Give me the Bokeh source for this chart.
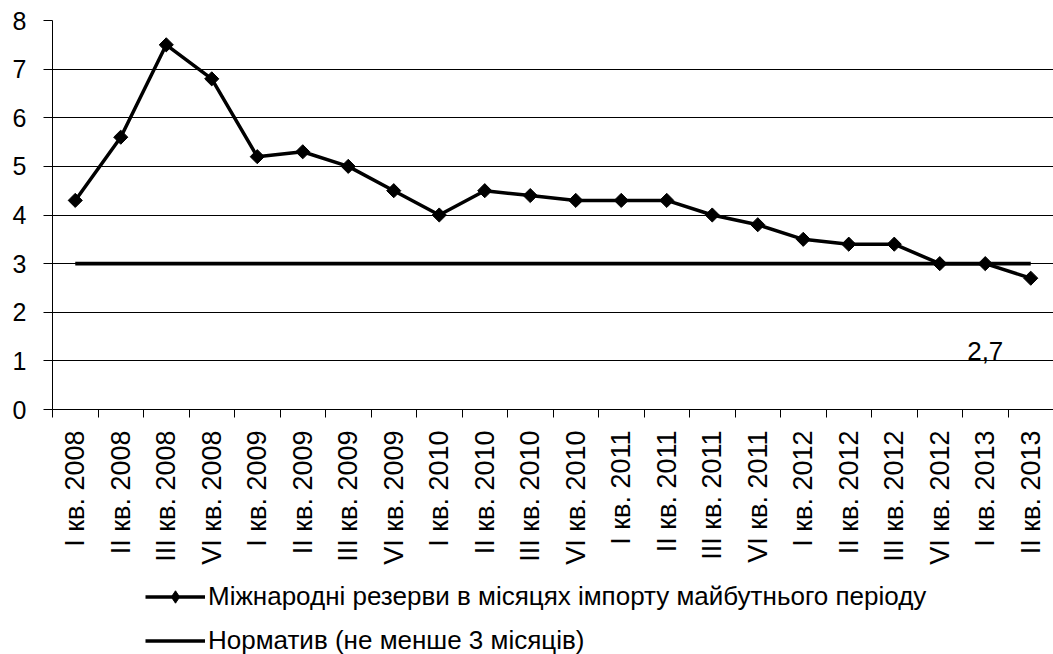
from bokeh.plotting import figure
from bokeh.layouts import column
from bokeh.models import (Range1d, FixedTicker, Legend, LegendItem, Label, ColumnDataSource)
from bokeh.embed import file_html
from bokeh.resources import INLINE
import math

# ---- data ----
quarters = ["I кв. 2008", "II кв. 2008", "III кв. 2008", "VI кв. 2008",
            "I кв. 2009", "II кв. 2009", "III кв. 2009", "VI кв. 2009",
            "I кв. 2010", "II кв. 2010", "III кв. 2010", "VI кв. 2010",
            "I кв. 2011", "II кв. 2011", "III кв. 2011", "VI кв. 2011",
            "I кв. 2012", "II кв. 2012", "III кв. 2012", "VI кв. 2012",
            "I кв. 2013", "II кв. 2013"]
reserves = [4.3, 5.6, 7.5, 6.8, 5.2, 5.3, 5.0, 4.5, 4.0, 4.5, 4.4, 4.3,
            4.3, 4.3, 4.0, 3.8, 3.5, 3.4, 3.4, 3.0, 3.0, 2.7]
norm = [3] * len(quarters)
series_names = ["Міжнародні резерви в місяцях імпорту майбутнього періоду",
                "Норматив (не менше 3 місяців)"]
y_ticks = [0, 1, 2, 3, 4, 5, 6, 7, 8]
last_label = "2,7"

FONT = "Liberation Sans"

idx = list(range(len(quarters)))
src = ColumnDataSource(dict(x=idx, r=reserves, n=norm))

p = figure(width=1053, height=574, output_backend="svg", toolbar_location=None,
           x_range=Range1d(-0.5, len(quarters) - 0.5), y_range=Range1d(0, 8),
           min_border_left=52, min_border_top=20, min_border_bottom=165, min_border_right=0)
p.outline_line_color = None
p.background_fill_color = "white"
p.border_fill_color = "white"

# axes
xa = p.xaxis[0]
xa.ticker = FixedTicker(ticks=idx, minor_ticks=[i - 0.5 for i in range(len(quarters) + 1)])
xa.major_label_overrides = {i: q for i, q in enumerate(quarters)}
xa.major_label_orientation = math.pi / 2
xa.major_tick_out = 0
xa.major_tick_in = 0
xa.minor_tick_out = 8
xa.minor_tick_in = 0
xa.minor_tick_line_color = "black"
xa.axis_line_color = "black"
xa.major_label_standoff = 13
xa.major_label_text_font = FONT
xa.major_label_text_font_size = "27px"
xa.major_label_text_color = "black"

ya = p.yaxis[0]
ya.ticker = FixedTicker(ticks=y_ticks)
ya.major_tick_out = 9
ya.major_tick_in = 0
ya.minor_tick_out = 0
ya.minor_tick_in = 0
ya.major_tick_line_color = "black"
ya.axis_line_color = "black"
ya.major_label_standoff = 17
ya.major_label_text_font = FONT
ya.major_label_text_font_size = "25px"
ya.major_label_text_color = "black"

p.xgrid.visible = False
p.ygrid.ticker = FixedTicker(ticks=y_ticks)
p.ygrid.grid_line_color = "black"
p.ygrid.grid_line_width = 1

# series
r_norm = p.line("x", "n", source=src, line_color="black", line_width=3.8)
r_line = p.line("x", "r", source=src, line_color="black", line_width=3.5)
r_pts = p.scatter("x", "r", source=src, marker="square", angle=math.pi / 4, size=10,
                  fill_color="black", line_color="black")

lab = Label(x=len(quarters) - 2, y=reserves[-1] - 1.5, text=last_label,
            text_font=FONT, text_font_size="26px", text_color="black",
            text_align="center", text_baseline="middle")
p.add_layout(lab)

# legend panel below the chart (same data, view range set away from it)
q = figure(width=1053, height=80, output_backend="svg", toolbar_location=None,
           x_axis_type=None, y_axis_type=None,
           x_range=Range1d(1000, 1001), y_range=Range1d(1000, 1001),
           min_border_left=0, min_border_top=0, min_border_bottom=0, min_border_right=0)
q.grid.visible = False
q.outline_line_color = None
q.border_fill_color = "white"
g_line = q.line("x", "r", source=src, line_color="black", line_width=3.5)
g_pts = q.scatter("x", "r", source=src, marker="diamond", size=13,
                  fill_color="black", line_color="black")
g_norm = q.line("x", "n", source=src, line_color="black", line_width=3.5)

legend = Legend(items=[LegendItem(label=series_names[0], renderers=[g_line, g_pts]),
                       LegendItem(label=series_names[1], renderers=[g_norm])],
                location=(93, -2), orientation="vertical",
                glyph_width=60, glyph_height=31, label_height=26, spacing=13,
                label_standoff=3, padding=0, margin=0,
                label_text_font=FONT, label_text_font_size="26px", label_text_color="black",
                border_line_color=None, background_fill_alpha=0)
q.add_layout(legend, "center")

layout = column(p, q, spacing=0)
open("out.html", "w").write(file_html(layout, INLINE))
